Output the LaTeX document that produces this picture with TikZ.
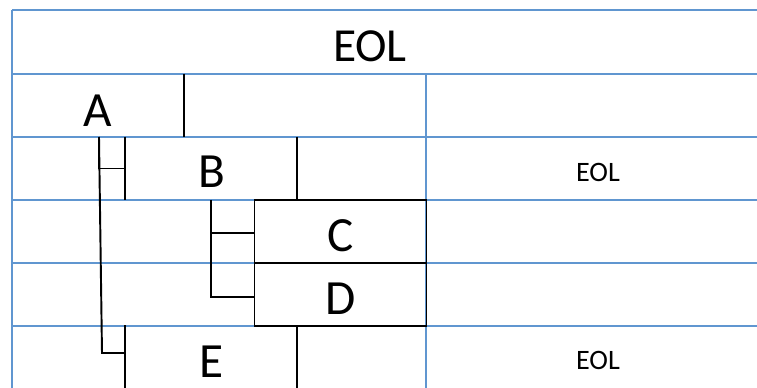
\documentclass[tikz,border=0pt]{standalone}
\usepackage{fontspec}
\setmainfont{Carlito}
\usetikzlibrary{positioning,calc}
\definecolor{gridblue}{RGB}{96,150,208}

\begin{document}
\begin{tikzpicture}[x=0.02cm,y=-0.02cm,
      grid/.style={draw=gridblue,line width=1.4pt},
      tree/.style={draw=black,line width=1.1pt},
      cell/.style={inner sep=0pt,minimum width=3.44cm,minimum height=1.26cm},
      big/.style={font=\fontsize{28}{30}\selectfont},
      small/.style={font=\fontsize{16}{18}\selectfont}]
    \useasboundingbox (0,0) rectangle (757,388);
    % table rows
    \foreach \y in {10,74,137,200,263,326}{\draw[grid] (12,\y) -- (757,\y);}
    \draw[grid] (12,10) -- (12,388);
    \draw[grid] (426,74) -- (426,388);
    % items
    \node[cell] (A) at (98,105.5) {};
    \node[big,anchor=base] at (98,127) {A};
    \node[cell] (B) at (211,168.5) {};
    \node[big,anchor=base] at (212,188) {B};
    \node[cell,draw,line width=1.1pt] (C) at (340.5,231.5) {};
    \node[big,anchor=base] at (341,252) {C};
    \node[cell,draw,line width=1.1pt] (D) at (340.5,294.5) {};
    \node[big,anchor=base] at (341,314) {D};
    \node[cell] (E) at (211,357) {};
    \node[big,anchor=base] at (212,377) {E};
    \draw[tree] (A.north east) -- (A.south east);
    \draw[tree] (B.north west) -- (B.south west) (B.north east) -- (B.south east);
    \draw[tree] (E.north west) -- (E.south west) (E.north east) -- (E.south east);
    % tree connectors
    \coordinate (a0) at (99,137);
    \coordinate (a1) at (102,353);
    \coordinate (c0) at (211,200);
    \coordinate (c1) at (211,297);
    \draw[tree] (a0) -- (a0 |- B.west) -- (B.west);
    \draw[tree] (a0) -- (a1) -- (a1 -| E.west);
    \draw[tree] (c0) -- (c1) -- (c1 -| D.west);
    \draw[tree] (211,233) -- (C.west |- 0,233);
    % EOL labels
    \node[font=\fontsize{27}{29}\selectfont,anchor=base] (top) at (370,62) {EOL};
    \node[small] (eol1) at (598,172) {EOL};
    \node[small] (eol2) at (598,360) {EOL};
  \end{tikzpicture}
\end{document}
